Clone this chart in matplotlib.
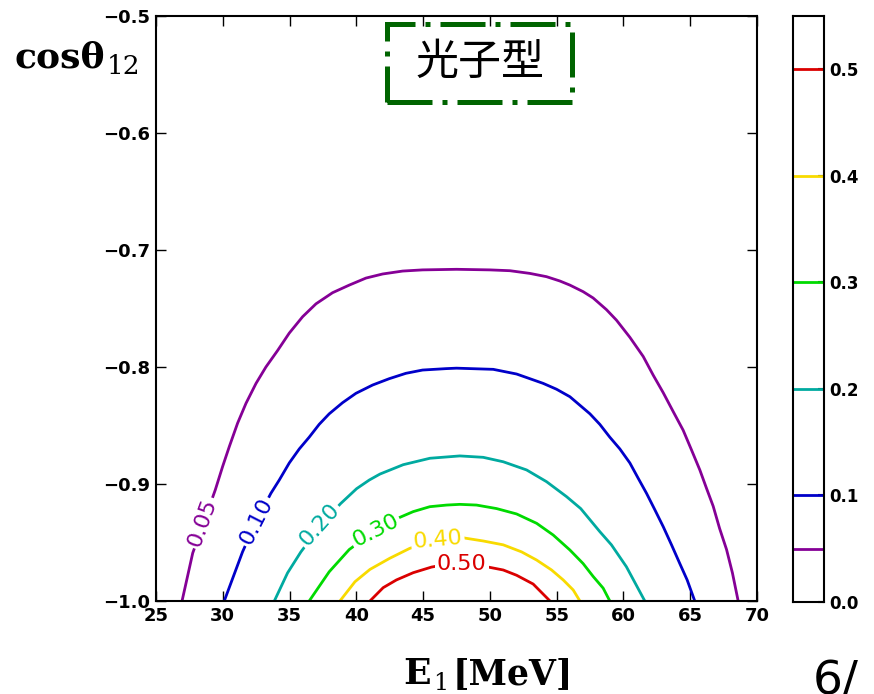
import numpy as np
import matplotlib.pyplot as plt
from matplotlib.patches import Rectangle
from matplotlib.colors import Normalize

# Contour levels of the distribution and their traced curves (E1 in MeV, cos theta_12)
levels = [0.05, 0.10, 0.20, 0.30, 0.40, 0.50]

e_005 = [26.95, 27.75, 28.6, 29.44, 29.99, 30.49, 31.11, 31.74, 32.49, 33.23, 34.1, 34.98, 35.98,
         36.98, 38.22, 39.47, 40.72, 41.97, 43.47, 44.96, 47.5, 50.0, 51.5, 52.99, 54.24, 55.24,
         55.99, 56.98, 57.73, 58.73, 59.48, 60.48, 61.48, 62.23, 62.98, 63.72, 64.47, 65.1, 65.72,
         66.22, 66.72, 67.2, 67.72, 68.16, 68.59]
c_005 = [-1.0, -0.959, -0.932, -0.905, -0.885, -0.868, -0.848, -0.831, -0.814, -0.800, -0.786, -0.771, -0.757,
         -0.746, -0.7365, -0.730, -0.724, -0.7205, -0.718, -0.717, -0.7165, -0.717, -0.7177, -0.720, -0.7228, -0.7265,
         -0.730, -0.7356, -0.741, -0.751, -0.760, -0.7746, -0.791, -0.807, -0.822, -0.838, -0.854, -0.871, -0.888,
         -0.9037, -0.919, -0.938, -0.956, -0.976, -1.0]

e_010 = [30.11, 31.48, 32.5, 33.6, 34.23, 34.98, 35.73, 36.47, 37.22, 37.97, 38.97, 39.97, 41.22,
         42.46, 43.71, 44.96, 46.71, 47.5, 50.25, 52.0, 53.99, 54.99, 55.99, 57.49, 58.23, 58.98,
         59.73, 60.48, 61.1, 61.73, 62.35, 62.98, 63.6, 64.22, 64.77, 65.34]
c_010 = [-1.0, -0.958, -0.932, -0.908, -0.8966, -0.882, -0.870, -0.860, -0.849, -0.840, -0.8305, -0.8225, -0.8154,
         -0.810, -0.8054, -0.8026, -0.8014, -0.801, -0.802, -0.806, -0.814, -0.819, -0.8254, -0.840, -0.849, -0.860,
         -0.870, -0.882, -0.895, -0.908, -0.922, -0.9365, -0.952, -0.968, -0.982, -1.0]

e_020 = [33.86, 34.85, 35.85, 37.3, 38.8, 40.02, 40.97, 41.77, 43.51, 45.51, 47.75, 49.5, 51.0, 52.75,
         54.24, 55.74, 56.8, 58.23, 59.1, 60.22, 61.6]
c_020 = [-1.0, -0.976, -0.958, -0.936, -0.917, -0.904, -0.8966, -0.8915, -0.8835, -0.878, -0.876, -0.8772, -0.881,
         -0.888, -0.898, -0.9108, -0.921, -0.9407, -0.952, -0.9707, -1.0]

e_030 = [36.47, 37.97, 39.47, 41.4, 43.26, 44.26, 45.5, 46.76, 47.75, 49.0, 50.5, 52.0, 53.5,
         54.74, 55.99, 56.98, 57.73, 58.48, 58.98]
c_030 = [-1.0, -0.975, -0.956, -0.940, -0.9285, -0.9236, -0.9194, -0.918, -0.9174, -0.918, -0.921, -0.9256, -0.9336,
         -0.9436, -0.9564, -0.968, -0.979, -0.989, -1.0]

e_040 = [38.77, 39.9, 41.02, 42.5, 44.0, 46.0, 48.0, 49.5, 51.0, 52.37, 53.5, 54.62, 55.49, 56.24, 56.74]
c_040 = [-1.0, -0.9835, -0.973, -0.9635, -0.955, -0.948, -0.946, -0.9487, -0.952, -0.958, -0.965, -0.9735, -0.982,
         -0.9906, -1.0]

e_050 = [41.02, 42.01, 43.0, 44.26, 45.63, 47.6, 49.88, 51.0, 52.0, 53.24, 54.5]
c_050 = [-1.0, -0.9886, -0.982, -0.9758, -0.971, -0.967, -0.971, -0.9735, -0.978, -0.9855, -1.0]

curves = [(e_005, c_005), (e_010, c_010), (e_020, c_020),
          (e_030, c_030), (e_040, c_040), (e_050, c_050)]

# inline labels: text, position on the curve, angle
label_text = ["0.05", "0.10", "0.20", "0.30", "0.40", "0.50"]
label_e = [28.45, 32.5, 37.25, 41.45, 46.1, 47.9]
label_c = [-0.933, -0.932, -0.935, -0.940, -0.948, -0.968]
label_rot = [70, 63, 48, 27, 5, 0]

x_ticks = [25, 30, 35, 40, 45, 50, 55, 60, 65, 70]
y_ticks = [-1.0, -0.9, -0.8, -0.7, -0.6, -0.5]
cb_ticks = [0.0, 0.1, 0.2, 0.3, 0.4, 0.5]

W, H = 874, 694
fig = plt.figure(figsize=(W / 100, H / 100), dpi=100)
ax = fig.add_axes([156 / W, 1 - 601 / H, 601 / W, 585 / H])

cmap = plt.get_cmap('nipy_spectral')
norm = Normalize(0.0, 0.55)

for lvl, (e, c) in zip(levels, curves):
    ax.plot(e, c, color=cmap(norm(lvl)), lw=2, solid_capstyle='butt',
            solid_joinstyle='round', zorder=2)

for txt, lvl, e, c, r in zip(label_text, levels, label_e, label_c, label_rot):
    ax.text(e, c, txt, color=cmap(norm(lvl)), fontsize=16, rotation=r,
            rotation_mode='anchor', ha='center', va='center', zorder=3,
            bbox=dict(fc='white', ec='none', pad=1.5))

ax.set_xlim(25, 70)
ax.set_ylim(-1.0, -0.5)
ax.set_xticks(x_ticks)
ax.set_yticks(y_ticks)
ax.set_xticklabels([str(v) for v in x_ticks])
ax.set_yticklabels(["\u2212%.1f" % abs(v) for v in y_ticks])
ax.tick_params(direction='in', length=7, width=1, top=True, right=True, pad=4)
for lab in ax.get_xticklabels() + ax.get_yticklabels():
    lab.set_fontweight('bold')
    lab.set_fontsize(13)
for sp in ax.spines.values():
    sp.set_linewidth(1.5)

# colour bar with line markers at the levels
cax = fig.add_axes([793 / W, 1 - 602 / H, 31 / W, 586 / H])
cax.set_xlim(0, 1)
cax.set_ylim(0.0, 0.55)
for lvl in levels:
    cax.axhline(lvl, color=cmap(norm(lvl)), lw=2)
cax.set_xticks([])
cax.yaxis.tick_right()
cax.set_yticks(cb_ticks)
cax.set_yticklabels(["%.1f" % v for v in cb_ticks])
cax.tick_params(axis='y', direction='in', length=4, width=1.5, pad=4)
for lab in cax.get_yticklabels():
    lab.set_fontweight('bold')
    lab.set_fontsize(12)
for sp in cax.spines.values():
    sp.set_linewidth(1.5)

# axis titles
fig.text(15 / W, 1 - 67 / H, "cos\u03b8", fontsize=26, fontweight='bold',
         family='DejaVu Serif', ha='left', va='baseline')
fig.text(107 / W, 1 - 74 / H, "12", fontsize=19, family='DejaVu Serif',
         ha='left', va='baseline')

fig.text(403 / W, 1 - 684 / H, "E", fontsize=26, fontweight='bold',
         family='DejaVu Serif', ha='left', va='baseline')
fig.text(433 / W, 1 - 690 / H, "1", fontsize=17, family='DejaVu Serif',
         ha='left', va='baseline')
fig.text(453 / W, 1 - 684 / H, "[MeV]", fontsize=25, fontweight='bold',
         family='DejaVu Serif', ha='left', va='baseline')

# framed tag
box = Rectangle((387 / W, 1 - 102 / H), 185 / W, 78 / H, transform=fig.transFigure,
                fill=False, ec='#006400', lw=3.6, ls=(0, (9, 2, 1, 2)), zorder=5)
fig.add_artist(box)
fig.text(480 / W, 1 - 63 / H, "光子型", fontsize=31, family=['Noto Sans CJK SC', 'DejaVu Sans'],
         ha='center', va='center', color='black')

fig.text(813 / W, 1 - 694 / H, "6/", fontsize=34, ha='left', va='baseline', color='black')

fig.savefig("out.png", dpi=100)
